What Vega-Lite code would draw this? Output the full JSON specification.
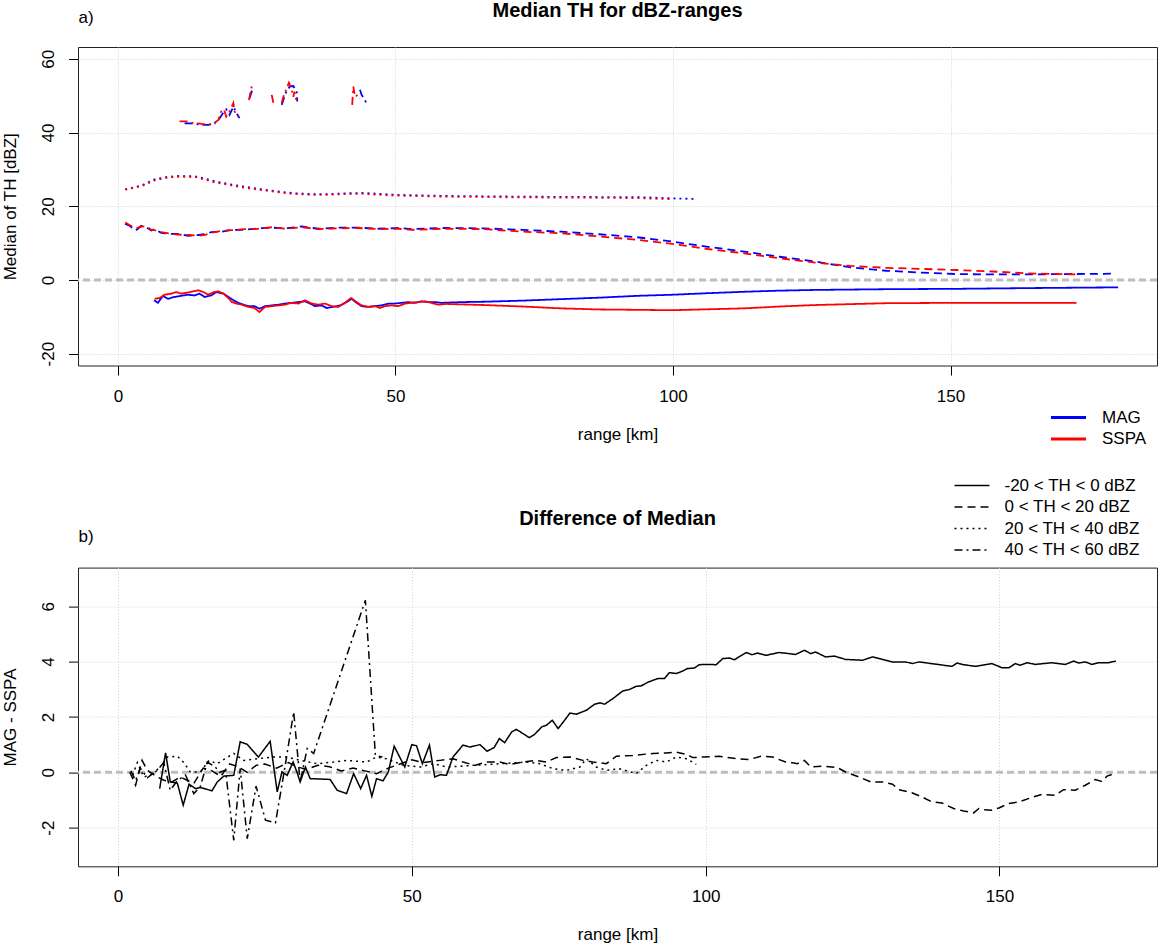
{
  "$schema": "https://vega.github.io/schema/vega-lite/v6.json",
  "background": "white",
  "padding": {"left": 0, "top": 0, "right": 0, "bottom": 0},
  "config": {
    "font": "Liberation Sans",
    "view": {"stroke": "#222222", "strokeWidth": 1},
    "axis": {
      "domain": false, "tickColor": "black", "tickSize": 9.5, "tickWidth": 1,
      "labelFontSize": 17, "titleFontSize": 17, "labelColor": "black", "titleColor": "black",
      "titleFontWeight": "normal", "labelFont": "Liberation Sans", "titleFont": "Liberation Sans",
      "grid": true, "gridColor": "#D3D3D3", "gridDash": [1, 2], "gridWidth": 1
    },
    "axisX": {"labelPadding": 13, "titlePadding": 22},
    "axisY": {"labelAngle": -90, "labelAlign": "center", "labelBaseline": "alphabetic", "labelPadding": 14.7, "titlePadding": 20.5},
    "legend": {"labelColor": "black", "labelFont": "Liberation Sans", "labelFontSize": 17, "padding": 0},
    "title": {"font": "Liberation Sans", "color": "black"}
  },
  "datasets": {
    "top": [
      {"src":"MAG","rng":"-20 < TH < 0 dBZ","km":6.5,"val":-5.5},{"src":"MAG","rng":"-20 < TH < 0 dBZ","km":7.2,"val":-6.2},{"src":"MAG","rng":"-20 < TH < 0 dBZ","km":8.1,"val":-4.3},{"src":"MAG","rng":"-20 < TH < 0 dBZ","km":9.0,"val":-5.1},{"src":"MAG","rng":"-20 < TH < 0 dBZ","km":10.2,"val":-4.6},{"src":"MAG","rng":"-20 < TH < 0 dBZ","km":11.4,"val":-4.3},{"src":"MAG","rng":"-20 < TH < 0 dBZ","km":12.6,"val":-4.0},{"src":"MAG","rng":"-20 < TH < 0 dBZ","km":13.8,"val":-4.2},{"src":"MAG","rng":"-20 < TH < 0 dBZ","km":14.7,"val":-3.7},{"src":"MAG","rng":"-20 < TH < 0 dBZ","km":15.6,"val":-4.6},{"src":"MAG","rng":"-20 < TH < 0 dBZ","km":16.8,"val":-4.2},{"src":"MAG","rng":"-20 < TH < 0 dBZ","km":17.7,"val":-3.3},{"src":"MAG","rng":"-20 < TH < 0 dBZ","km":19.0,"val":-3.7},{"src":"MAG","rng":"-20 < TH < 0 dBZ","km":19.9,"val":-4.6},{"src":"MAG","rng":"-20 < TH < 0 dBZ","km":20.8,"val":-5.5},{"src":"MAG","rng":"-20 < TH < 0 dBZ","km":21.7,"val":-6.2},{"src":"MAG","rng":"-20 < TH < 0 dBZ","km":22.6,"val":-6.7},{"src":"MAG","rng":"-20 < TH < 0 dBZ","km":23.5,"val":-7.1},{"src":"MAG","rng":"-20 < TH < 0 dBZ","km":24.6,"val":-7.1},{"src":"MAG","rng":"-20 < TH < 0 dBZ","km":25.5,"val":-7.8},{"src":"MAG","rng":"-20 < TH < 0 dBZ","km":26.5,"val":-7.1},{"src":"MAG","rng":"-20 < TH < 0 dBZ","km":27.7,"val":-6.9},{"src":"MAG","rng":"-20 < TH < 0 dBZ","km":28.9,"val":-6.7},{"src":"MAG","rng":"-20 < TH < 0 dBZ","km":30.1,"val":-6.4},{"src":"MAG","rng":"-20 < TH < 0 dBZ","km":31.3,"val":-6.2},{"src":"MAG","rng":"-20 < TH < 0 dBZ","km":32.5,"val":-6.0},{"src":"MAG","rng":"-20 < TH < 0 dBZ","km":33.7,"val":-5.8},{"src":"MAG","rng":"-20 < TH < 0 dBZ","km":34.6,"val":-6.4},{"src":"MAG","rng":"-20 < TH < 0 dBZ","km":35.5,"val":-7.1},{"src":"MAG","rng":"-20 < TH < 0 dBZ","km":36.7,"val":-6.9},{"src":"MAG","rng":"-20 < TH < 0 dBZ","km":37.6,"val":-7.6},{"src":"MAG","rng":"-20 < TH < 0 dBZ","km":38.8,"val":-7.3},{"src":"MAG","rng":"-20 < TH < 0 dBZ","km":40.0,"val":-6.9},{"src":"MAG","rng":"-20 < TH < 0 dBZ","km":41.2,"val":-6.0},{"src":"MAG","rng":"-20 < TH < 0 dBZ","km":42.1,"val":-5.1},{"src":"MAG","rng":"-20 < TH < 0 dBZ","km":43.0,"val":-6.2},{"src":"MAG","rng":"-20 < TH < 0 dBZ","km":43.9,"val":-7.1},{"src":"MAG","rng":"-20 < TH < 0 dBZ","km":45.1,"val":-7.3},{"src":"MAG","rng":"-20 < TH < 0 dBZ","km":46.3,"val":-7.1},{"src":"MAG","rng":"-20 < TH < 0 dBZ","km":47.5,"val":-6.9},{"src":"MAG","rng":"-20 < TH < 0 dBZ","km":48.7,"val":-6.4},{"src":"MAG","rng":"-20 < TH < 0 dBZ","km":49.9,"val":-6.4},{"src":"MAG","rng":"-20 < TH < 0 dBZ","km":51.1,"val":-6.2},{"src":"MAG","rng":"-20 < TH < 0 dBZ","km":52.3,"val":-6.0},{"src":"MAG","rng":"-20 < TH < 0 dBZ","km":53.5,"val":-6.2},{"src":"MAG","rng":"-20 < TH < 0 dBZ","km":54.7,"val":-5.8},{"src":"MAG","rng":"-20 < TH < 0 dBZ","km":55.9,"val":-6.0},{"src":"MAG","rng":"-20 < TH < 0 dBZ","km":57.1,"val":-6.0},{"src":"MAG","rng":"-20 < TH < 0 dBZ","km":58.3,"val":-6.2},{"src":"MAG","rng":"-20 < TH < 0 dBZ","km":62.0,"val":-6.0},{"src":"MAG","rng":"-20 < TH < 0 dBZ","km":66.0,"val":-5.9},{"src":"MAG","rng":"-20 < TH < 0 dBZ","km":72.9,"val":-5.6},{"src":"MAG","rng":"-20 < TH < 0 dBZ","km":79.8,"val":-5.2},{"src":"MAG","rng":"-20 < TH < 0 dBZ","km":86.7,"val":-4.8},{"src":"MAG","rng":"-20 < TH < 0 dBZ","km":93.6,"val":-4.3},{"src":"MAG","rng":"-20 < TH < 0 dBZ","km":100.0,"val":-4.0},{"src":"MAG","rng":"-20 < TH < 0 dBZ","km":106.0,"val":-3.6},{"src":"MAG","rng":"-20 < TH < 0 dBZ","km":112.8,"val":-3.2},{"src":"MAG","rng":"-20 < TH < 0 dBZ","km":119.0,"val":-2.9},{"src":"MAG","rng":"-20 < TH < 0 dBZ","km":125.6,"val":-2.7},{"src":"MAG","rng":"-20 < TH < 0 dBZ","km":138.4,"val":-2.5},{"src":"MAG","rng":"-20 < TH < 0 dBZ","km":151.2,"val":-2.4},{"src":"MAG","rng":"-20 < TH < 0 dBZ","km":164.0,"val":-2.2},{"src":"MAG","rng":"-20 < TH < 0 dBZ","km":180.2,"val":-2.0},
      {"src":"SSPA","rng":"-20 < TH < 0 dBZ","km":6.6,"val":-5.1},{"src":"SSPA","rng":"-20 < TH < 0 dBZ","km":7.5,"val":-4.9},{"src":"SSPA","rng":"-20 < TH < 0 dBZ","km":8.4,"val":-4.0},{"src":"SSPA","rng":"-20 < TH < 0 dBZ","km":9.6,"val":-3.7},{"src":"SSPA","rng":"-20 < TH < 0 dBZ","km":10.5,"val":-3.3},{"src":"SSPA","rng":"-20 < TH < 0 dBZ","km":11.4,"val":-3.7},{"src":"SSPA","rng":"-20 < TH < 0 dBZ","km":12.6,"val":-3.4},{"src":"SSPA","rng":"-20 < TH < 0 dBZ","km":13.5,"val":-3.1},{"src":"SSPA","rng":"-20 < TH < 0 dBZ","km":14.5,"val":-2.8},{"src":"SSPA","rng":"-20 < TH < 0 dBZ","km":15.4,"val":-3.3},{"src":"SSPA","rng":"-20 < TH < 0 dBZ","km":16.3,"val":-4.0},{"src":"SSPA","rng":"-20 < TH < 0 dBZ","km":17.2,"val":-3.3},{"src":"SSPA","rng":"-20 < TH < 0 dBZ","km":18.1,"val":-3.1},{"src":"SSPA","rng":"-20 < TH < 0 dBZ","km":19.0,"val":-3.7},{"src":"SSPA","rng":"-20 < TH < 0 dBZ","km":19.9,"val":-4.9},{"src":"SSPA","rng":"-20 < TH < 0 dBZ","km":20.5,"val":-6.0},{"src":"SSPA","rng":"-20 < TH < 0 dBZ","km":21.4,"val":-6.4},{"src":"SSPA","rng":"-20 < TH < 0 dBZ","km":22.3,"val":-6.7},{"src":"SSPA","rng":"-20 < TH < 0 dBZ","km":23.5,"val":-7.3},{"src":"SSPA","rng":"-20 < TH < 0 dBZ","km":24.6,"val":-7.6},{"src":"SSPA","rng":"-20 < TH < 0 dBZ","km":25.5,"val":-8.7},{"src":"SSPA","rng":"-20 < TH < 0 dBZ","km":26.5,"val":-7.3},{"src":"SSPA","rng":"-20 < TH < 0 dBZ","km":27.7,"val":-7.1},{"src":"SSPA","rng":"-20 < TH < 0 dBZ","km":28.9,"val":-6.9},{"src":"SSPA","rng":"-20 < TH < 0 dBZ","km":30.1,"val":-6.7},{"src":"SSPA","rng":"-20 < TH < 0 dBZ","km":31.3,"val":-6.2},{"src":"SSPA","rng":"-20 < TH < 0 dBZ","km":32.5,"val":-6.4},{"src":"SSPA","rng":"-20 < TH < 0 dBZ","km":33.7,"val":-5.5},{"src":"SSPA","rng":"-20 < TH < 0 dBZ","km":34.9,"val":-6.4},{"src":"SSPA","rng":"-20 < TH < 0 dBZ","km":36.1,"val":-6.7},{"src":"SSPA","rng":"-20 < TH < 0 dBZ","km":37.3,"val":-6.4},{"src":"SSPA","rng":"-20 < TH < 0 dBZ","km":38.5,"val":-7.1},{"src":"SSPA","rng":"-20 < TH < 0 dBZ","km":39.7,"val":-7.3},{"src":"SSPA","rng":"-20 < TH < 0 dBZ","km":40.9,"val":-6.2},{"src":"SSPA","rng":"-20 < TH < 0 dBZ","km":42.0,"val":-4.9},{"src":"SSPA","rng":"-20 < TH < 0 dBZ","km":43.0,"val":-6.0},{"src":"SSPA","rng":"-20 < TH < 0 dBZ","km":43.9,"val":-6.9},{"src":"SSPA","rng":"-20 < TH < 0 dBZ","km":45.1,"val":-7.3},{"src":"SSPA","rng":"-20 < TH < 0 dBZ","km":46.3,"val":-7.1},{"src":"SSPA","rng":"-20 < TH < 0 dBZ","km":47.2,"val":-7.6},{"src":"SSPA","rng":"-20 < TH < 0 dBZ","km":48.1,"val":-7.1},{"src":"SSPA","rng":"-20 < TH < 0 dBZ","km":49.3,"val":-6.9},{"src":"SSPA","rng":"-20 < TH < 0 dBZ","km":50.5,"val":-7.1},{"src":"SSPA","rng":"-20 < TH < 0 dBZ","km":51.7,"val":-6.4},{"src":"SSPA","rng":"-20 < TH < 0 dBZ","km":52.9,"val":-6.2},{"src":"SSPA","rng":"-20 < TH < 0 dBZ","km":54.1,"val":-6.0},{"src":"SSPA","rng":"-20 < TH < 0 dBZ","km":55.3,"val":-5.8},{"src":"SSPA","rng":"-20 < TH < 0 dBZ","km":56.5,"val":-6.2},{"src":"SSPA","rng":"-20 < TH < 0 dBZ","km":57.7,"val":-6.7},{"src":"SSPA","rng":"-20 < TH < 0 dBZ","km":59.1,"val":-6.5},{"src":"SSPA","rng":"-20 < TH < 0 dBZ","km":66.0,"val":-6.8},{"src":"SSPA","rng":"-20 < TH < 0 dBZ","km":72.9,"val":-7.2},{"src":"SSPA","rng":"-20 < TH < 0 dBZ","km":79.8,"val":-7.7},{"src":"SSPA","rng":"-20 < TH < 0 dBZ","km":86.7,"val":-8.0},{"src":"SSPA","rng":"-20 < TH < 0 dBZ","km":93.6,"val":-8.1},{"src":"SSPA","rng":"-20 < TH < 0 dBZ","km":99.9,"val":-8.2},{"src":"SSPA","rng":"-20 < TH < 0 dBZ","km":105.0,"val":-8.0},{"src":"SSPA","rng":"-20 < TH < 0 dBZ","km":112.8,"val":-7.7},{"src":"SSPA","rng":"-20 < TH < 0 dBZ","km":119.2,"val":-7.2},{"src":"SSPA","rng":"-20 < TH < 0 dBZ","km":125.6,"val":-6.8},{"src":"SSPA","rng":"-20 < TH < 0 dBZ","km":138.4,"val":-6.3},{"src":"SSPA","rng":"-20 < TH < 0 dBZ","km":151.2,"val":-6.2},{"src":"SSPA","rng":"-20 < TH < 0 dBZ","km":164.0,"val":-6.2},{"src":"SSPA","rng":"-20 < TH < 0 dBZ","km":172.7,"val":-6.2},
      {"src":"MAG","rng":"0 < TH < 20 dBZ","km":1.3,"val":15.2},{"src":"MAG","rng":"0 < TH < 20 dBZ","km":2.1,"val":14.7},{"src":"MAG","rng":"0 < TH < 20 dBZ","km":3.2,"val":13.4},{"src":"MAG","rng":"0 < TH < 20 dBZ","km":4.2,"val":14.7},{"src":"MAG","rng":"0 < TH < 20 dBZ","km":5.1,"val":14.3},{"src":"MAG","rng":"0 < TH < 20 dBZ","km":6.0,"val":13.4},{"src":"MAG","rng":"0 < TH < 20 dBZ","km":6.6,"val":13.8},{"src":"MAG","rng":"0 < TH < 20 dBZ","km":7.8,"val":12.8},{"src":"MAG","rng":"0 < TH < 20 dBZ","km":9.3,"val":12.5},{"src":"MAG","rng":"0 < TH < 20 dBZ","km":10.8,"val":12.5},{"src":"MAG","rng":"0 < TH < 20 dBZ","km":12.6,"val":12.0},{"src":"MAG","rng":"0 < TH < 20 dBZ","km":14.5,"val":12.2},{"src":"MAG","rng":"0 < TH < 20 dBZ","km":15.9,"val":12.5},{"src":"MAG","rng":"0 < TH < 20 dBZ","km":16.8,"val":13.0},{"src":"MAG","rng":"0 < TH < 20 dBZ","km":18.6,"val":13.1},{"src":"MAG","rng":"0 < TH < 20 dBZ","km":20.5,"val":13.6},{"src":"MAG","rng":"0 < TH < 20 dBZ","km":22.8,"val":13.6},{"src":"MAG","rng":"0 < TH < 20 dBZ","km":25.3,"val":14.0},{"src":"MAG","rng":"0 < TH < 20 dBZ","km":27.7,"val":14.2},{"src":"MAG","rng":"0 < TH < 20 dBZ","km":30.1,"val":14.0},{"src":"MAG","rng":"0 < TH < 20 dBZ","km":33.1,"val":14.5},{"src":"MAG","rng":"0 < TH < 20 dBZ","km":36.1,"val":13.9},{"src":"MAG","rng":"0 < TH < 20 dBZ","km":39.7,"val":14.2},{"src":"MAG","rng":"0 < TH < 20 dBZ","km":43.3,"val":14.2},{"src":"MAG","rng":"0 < TH < 20 dBZ","km":46.9,"val":13.9},{"src":"MAG","rng":"0 < TH < 20 dBZ","km":50.5,"val":14.1},{"src":"MAG","rng":"0 < TH < 20 dBZ","km":52.9,"val":13.8},{"src":"MAG","rng":"0 < TH < 20 dBZ","km":59.0,"val":14.1},{"src":"MAG","rng":"0 < TH < 20 dBZ","km":66.0,"val":14.0},{"src":"MAG","rng":"0 < TH < 20 dBZ","km":72.9,"val":13.6},{"src":"MAG","rng":"0 < TH < 20 dBZ","km":79.8,"val":13.1},{"src":"MAG","rng":"0 < TH < 20 dBZ","km":86.7,"val":12.4},{"src":"MAG","rng":"0 < TH < 20 dBZ","km":93.5,"val":11.6},{"src":"MAG","rng":"0 < TH < 20 dBZ","km":99.9,"val":10.4},{"src":"MAG","rng":"0 < TH < 20 dBZ","km":106.3,"val":9.0},{"src":"MAG","rng":"0 < TH < 20 dBZ","km":112.8,"val":7.7},{"src":"MAG","rng":"0 < TH < 20 dBZ","km":119.2,"val":6.3},{"src":"MAG","rng":"0 < TH < 20 dBZ","km":125.6,"val":5.0},{"src":"MAG","rng":"0 < TH < 20 dBZ","km":132.0,"val":3.4},{"src":"MAG","rng":"0 < TH < 20 dBZ","km":138.4,"val":2.5},{"src":"MAG","rng":"0 < TH < 20 dBZ","km":144.8,"val":2.0},{"src":"MAG","rng":"0 < TH < 20 dBZ","km":151.2,"val":1.6},{"src":"MAG","rng":"0 < TH < 20 dBZ","km":157.6,"val":1.5},{"src":"MAG","rng":"0 < TH < 20 dBZ","km":164.0,"val":1.5},{"src":"MAG","rng":"0 < TH < 20 dBZ","km":170.5,"val":1.6},{"src":"MAG","rng":"0 < TH < 20 dBZ","km":179.2,"val":1.7},
      {"src":"SSPA","rng":"0 < TH < 20 dBZ","km":1.3,"val":15.6},{"src":"SSPA","rng":"0 < TH < 20 dBZ","km":2.1,"val":14.9},{"src":"SSPA","rng":"0 < TH < 20 dBZ","km":3.2,"val":14.0},{"src":"SSPA","rng":"0 < TH < 20 dBZ","km":4.2,"val":14.5},{"src":"SSPA","rng":"0 < TH < 20 dBZ","km":5.1,"val":14.6},{"src":"SSPA","rng":"0 < TH < 20 dBZ","km":6.0,"val":13.6},{"src":"SSPA","rng":"0 < TH < 20 dBZ","km":6.6,"val":13.5},{"src":"SSPA","rng":"0 < TH < 20 dBZ","km":7.8,"val":13.0},{"src":"SSPA","rng":"0 < TH < 20 dBZ","km":9.3,"val":12.6},{"src":"SSPA","rng":"0 < TH < 20 dBZ","km":10.8,"val":12.3},{"src":"SSPA","rng":"0 < TH < 20 dBZ","km":12.6,"val":12.2},{"src":"SSPA","rng":"0 < TH < 20 dBZ","km":14.5,"val":12.0},{"src":"SSPA","rng":"0 < TH < 20 dBZ","km":15.9,"val":12.3},{"src":"SSPA","rng":"0 < TH < 20 dBZ","km":16.8,"val":12.8},{"src":"SSPA","rng":"0 < TH < 20 dBZ","km":18.6,"val":13.3},{"src":"SSPA","rng":"0 < TH < 20 dBZ","km":20.5,"val":13.5},{"src":"SSPA","rng":"0 < TH < 20 dBZ","km":22.8,"val":13.8},{"src":"SSPA","rng":"0 < TH < 20 dBZ","km":25.3,"val":13.9},{"src":"SSPA","rng":"0 < TH < 20 dBZ","km":27.7,"val":14.3},{"src":"SSPA","rng":"0 < TH < 20 dBZ","km":30.1,"val":13.9},{"src":"SSPA","rng":"0 < TH < 20 dBZ","km":33.1,"val":14.3},{"src":"SSPA","rng":"0 < TH < 20 dBZ","km":36.1,"val":13.8},{"src":"SSPA","rng":"0 < TH < 20 dBZ","km":39.7,"val":14.0},{"src":"SSPA","rng":"0 < TH < 20 dBZ","km":43.3,"val":14.1},{"src":"SSPA","rng":"0 < TH < 20 dBZ","km":46.9,"val":13.8},{"src":"SSPA","rng":"0 < TH < 20 dBZ","km":50.5,"val":13.9},{"src":"SSPA","rng":"0 < TH < 20 dBZ","km":52.9,"val":13.6},{"src":"SSPA","rng":"0 < TH < 20 dBZ","km":59.0,"val":13.9},{"src":"SSPA","rng":"0 < TH < 20 dBZ","km":66.0,"val":13.8},{"src":"SSPA","rng":"0 < TH < 20 dBZ","km":72.9,"val":13.1},{"src":"SSPA","rng":"0 < TH < 20 dBZ","km":79.8,"val":12.7},{"src":"SSPA","rng":"0 < TH < 20 dBZ","km":86.7,"val":11.8},{"src":"SSPA","rng":"0 < TH < 20 dBZ","km":93.5,"val":10.9},{"src":"SSPA","rng":"0 < TH < 20 dBZ","km":99.9,"val":9.8},{"src":"SSPA","rng":"0 < TH < 20 dBZ","km":106.3,"val":8.4},{"src":"SSPA","rng":"0 < TH < 20 dBZ","km":112.8,"val":7.2},{"src":"SSPA","rng":"0 < TH < 20 dBZ","km":119.2,"val":5.9},{"src":"SSPA","rng":"0 < TH < 20 dBZ","km":125.6,"val":4.7},{"src":"SSPA","rng":"0 < TH < 20 dBZ","km":132.0,"val":3.8},{"src":"SSPA","rng":"0 < TH < 20 dBZ","km":138.4,"val":3.3},{"src":"SSPA","rng":"0 < TH < 20 dBZ","km":144.8,"val":3.0},{"src":"SSPA","rng":"0 < TH < 20 dBZ","km":151.2,"val":2.7},{"src":"SSPA","rng":"0 < TH < 20 dBZ","km":157.6,"val":2.3},{"src":"SSPA","rng":"0 < TH < 20 dBZ","km":164.0,"val":1.8},{"src":"SSPA","rng":"0 < TH < 20 dBZ","km":172.7,"val":1.5},
      {"src":"MAG","rng":"20 < TH < 40 dBZ","km":1.3,"val":24.6},{"src":"MAG","rng":"20 < TH < 40 dBZ","km":4.2,"val":25.6},{"src":"MAG","rng":"20 < TH < 40 dBZ","km":6.6,"val":27.3},{"src":"MAG","rng":"20 < TH < 40 dBZ","km":9.0,"val":28.0},{"src":"MAG","rng":"20 < TH < 40 dBZ","km":10.8,"val":28.2},{"src":"MAG","rng":"20 < TH < 40 dBZ","km":13.8,"val":28.1},{"src":"MAG","rng":"20 < TH < 40 dBZ","km":15.4,"val":27.6},{"src":"MAG","rng":"20 < TH < 40 dBZ","km":17.4,"val":26.8},{"src":"MAG","rng":"20 < TH < 40 dBZ","km":19.9,"val":26.0},{"src":"MAG","rng":"20 < TH < 40 dBZ","km":22.8,"val":25.3},{"src":"MAG","rng":"20 < TH < 40 dBZ","km":25.9,"val":24.6},{"src":"MAG","rng":"20 < TH < 40 dBZ","km":28.9,"val":24.0},{"src":"MAG","rng":"20 < TH < 40 dBZ","km":31.9,"val":23.5},{"src":"MAG","rng":"20 < TH < 40 dBZ","km":34.9,"val":23.3},{"src":"MAG","rng":"20 < TH < 40 dBZ","km":37.9,"val":23.3},{"src":"MAG","rng":"20 < TH < 40 dBZ","km":40.9,"val":23.5},{"src":"MAG","rng":"20 < TH < 40 dBZ","km":43.9,"val":23.6},{"src":"MAG","rng":"20 < TH < 40 dBZ","km":46.9,"val":23.4},{"src":"MAG","rng":"20 < TH < 40 dBZ","km":49.9,"val":23.1},{"src":"MAG","rng":"20 < TH < 40 dBZ","km":59.1,"val":22.8},{"src":"MAG","rng":"20 < TH < 40 dBZ","km":72.9,"val":22.6},{"src":"MAG","rng":"20 < TH < 40 dBZ","km":86.7,"val":22.5},{"src":"MAG","rng":"20 < TH < 40 dBZ","km":93.5,"val":22.5},{"src":"MAG","rng":"20 < TH < 40 dBZ","km":100.5,"val":22.1},{"src":"MAG","rng":"20 < TH < 40 dBZ","km":103.9,"val":22.0},
      {"src":"SSPA","rng":"20 < TH < 40 dBZ","km":1.3,"val":24.5},{"src":"SSPA","rng":"20 < TH < 40 dBZ","km":4.2,"val":25.4},{"src":"SSPA","rng":"20 < TH < 40 dBZ","km":6.6,"val":27.0},{"src":"SSPA","rng":"20 < TH < 40 dBZ","km":9.0,"val":27.8},{"src":"SSPA","rng":"20 < TH < 40 dBZ","km":10.8,"val":28.0},{"src":"SSPA","rng":"20 < TH < 40 dBZ","km":13.8,"val":28.0},{"src":"SSPA","rng":"20 < TH < 40 dBZ","km":15.4,"val":27.3},{"src":"SSPA","rng":"20 < TH < 40 dBZ","km":17.4,"val":26.5},{"src":"SSPA","rng":"20 < TH < 40 dBZ","km":19.9,"val":25.8},{"src":"SSPA","rng":"20 < TH < 40 dBZ","km":22.8,"val":25.0},{"src":"SSPA","rng":"20 < TH < 40 dBZ","km":25.9,"val":24.4},{"src":"SSPA","rng":"20 < TH < 40 dBZ","km":28.9,"val":23.8},{"src":"SSPA","rng":"20 < TH < 40 dBZ","km":31.9,"val":23.3},{"src":"SSPA","rng":"20 < TH < 40 dBZ","km":34.9,"val":23.1},{"src":"SSPA","rng":"20 < TH < 40 dBZ","km":37.9,"val":23.1},{"src":"SSPA","rng":"20 < TH < 40 dBZ","km":40.9,"val":23.3},{"src":"SSPA","rng":"20 < TH < 40 dBZ","km":43.9,"val":23.4},{"src":"SSPA","rng":"20 < TH < 40 dBZ","km":46.9,"val":23.1},{"src":"SSPA","rng":"20 < TH < 40 dBZ","km":49.9,"val":22.9},{"src":"SSPA","rng":"20 < TH < 40 dBZ","km":59.1,"val":22.6},{"src":"SSPA","rng":"20 < TH < 40 dBZ","km":72.9,"val":22.4},{"src":"SSPA","rng":"20 < TH < 40 dBZ","km":86.7,"val":22.3},{"src":"SSPA","rng":"20 < TH < 40 dBZ","km":93.5,"val":22.2},{"src":"SSPA","rng":"20 < TH < 40 dBZ","km":100.0,"val":21.9},
      {"src":"MAG","rng":"40 < TH < 60 dBZ","seg":1,"km":12.0,"val":42.5},{"src":"MAG","rng":"40 < TH < 60 dBZ","seg":1,"km":13.2,"val":42.5},{"src":"MAG","rng":"40 < TH < 60 dBZ","seg":1,"km":15.0,"val":42.1},{"src":"MAG","rng":"40 < TH < 60 dBZ","seg":1,"km":16.3,"val":42.1},{"src":"MAG","rng":"40 < TH < 60 dBZ","seg":1,"km":17.4,"val":42.5},{"src":"MAG","rng":"40 < TH < 60 dBZ","seg":1,"km":18.1,"val":43.4},{"src":"MAG","rng":"40 < TH < 60 dBZ","seg":1,"km":19.0,"val":45.4},{"src":"MAG","rng":"40 < TH < 60 dBZ","seg":1,"km":19.5,"val":46.3},{"src":"MAG","rng":"40 < TH < 60 dBZ","seg":1,"km":20.1,"val":44.8},{"src":"MAG","rng":"40 < TH < 60 dBZ","seg":1,"km":20.8,"val":47.0},{"src":"MAG","rng":"40 < TH < 60 dBZ","seg":1,"km":21.4,"val":45.2},{"src":"MAG","rng":"40 < TH < 60 dBZ","seg":1,"km":21.9,"val":43.9},
      {"src":"MAG","rng":"40 < TH < 60 dBZ","seg":2,"km":23.7,"val":49.3},{"src":"MAG","rng":"40 < TH < 60 dBZ","seg":2,"km":24.2,"val":51.6},
      {"src":"MAG","rng":"40 < TH < 60 dBZ","seg":3,"km":29.5,"val":47.5},{"src":"MAG","rng":"40 < TH < 60 dBZ","seg":3,"km":29.9,"val":49.3},{"src":"MAG","rng":"40 < TH < 60 dBZ","seg":3,"km":30.4,"val":51.4},{"src":"MAG","rng":"40 < TH < 60 dBZ","seg":3,"km":31.0,"val":52.5},{"src":"MAG","rng":"40 < TH < 60 dBZ","seg":3,"km":31.6,"val":52.6},{"src":"MAG","rng":"40 < TH < 60 dBZ","seg":3,"km":32.2,"val":51.1},{"src":"MAG","rng":"40 < TH < 60 dBZ","seg":3,"km":32.3,"val":48.4},
      {"src":"MAG","rng":"40 < TH < 60 dBZ","seg":4,"km":43.6,"val":51.6},{"src":"MAG","rng":"40 < TH < 60 dBZ","seg":4,"km":43.9,"val":50.2},{"src":"MAG","rng":"40 < TH < 60 dBZ","seg":4,"km":44.5,"val":48.8},{"src":"MAG","rng":"40 < TH < 60 dBZ","seg":4,"km":45.0,"val":47.2},
      {"src":"SSPA","rng":"40 < TH < 60 dBZ","seg":1,"km":11.1,"val":43.0},{"src":"SSPA","rng":"40 < TH < 60 dBZ","seg":1,"km":12.3,"val":43.0},{"src":"SSPA","rng":"40 < TH < 60 dBZ","seg":1,"km":13.2,"val":42.7},{"src":"SSPA","rng":"40 < TH < 60 dBZ","seg":1,"km":14.4,"val":42.5},{"src":"SSPA","rng":"40 < TH < 60 dBZ","seg":1,"km":15.4,"val":42.3},{"src":"SSPA","rng":"40 < TH < 60 dBZ","seg":1,"km":16.3,"val":42.1},{"src":"SSPA","rng":"40 < TH < 60 dBZ","seg":1,"km":17.2,"val":42.5},{"src":"SSPA","rng":"40 < TH < 60 dBZ","seg":1,"km":18.1,"val":43.4},{"src":"SSPA","rng":"40 < TH < 60 dBZ","seg":1,"km":18.6,"val":45.7},{"src":"SSPA","rng":"40 < TH < 60 dBZ","seg":1,"km":19.1,"val":46.3},{"src":"SSPA","rng":"40 < TH < 60 dBZ","seg":1,"km":19.5,"val":44.3},{"src":"SSPA","rng":"40 < TH < 60 dBZ","seg":1,"km":20.1,"val":45.7},{"src":"SSPA","rng":"40 < TH < 60 dBZ","seg":1,"km":20.8,"val":48.0},{"src":"SSPA","rng":"40 < TH < 60 dBZ","seg":1,"km":21.0,"val":45.7},{"src":"SSPA","rng":"40 < TH < 60 dBZ","seg":1,"km":21.7,"val":44.3},
      {"src":"SSPA","rng":"40 < TH < 60 dBZ","seg":2,"km":23.6,"val":48.8},{"src":"SSPA","rng":"40 < TH < 60 dBZ","seg":2,"km":24.1,"val":52.5},
      {"src":"SSPA","rng":"40 < TH < 60 dBZ","seg":3,"km":27.7,"val":50.2},{"src":"SSPA","rng":"40 < TH < 60 dBZ","seg":3,"km":28.0,"val":48.0},
      {"src":"SSPA","rng":"40 < TH < 60 dBZ","seg":4,"km":29.5,"val":48.0},{"src":"SSPA","rng":"40 < TH < 60 dBZ","seg":4,"km":29.9,"val":50.2},{"src":"SSPA","rng":"40 < TH < 60 dBZ","seg":4,"km":30.4,"val":52.0},{"src":"SSPA","rng":"40 < TH < 60 dBZ","seg":4,"km":30.8,"val":53.5},{"src":"SSPA","rng":"40 < TH < 60 dBZ","seg":4,"km":31.3,"val":51.6},{"src":"SSPA","rng":"40 < TH < 60 dBZ","seg":4,"km":31.6,"val":49.7},{"src":"SSPA","rng":"40 < TH < 60 dBZ","seg":4,"km":31.8,"val":51.1},{"src":"SSPA","rng":"40 < TH < 60 dBZ","seg":4,"km":32.2,"val":48.4},
      {"src":"SSPA","rng":"40 < TH < 60 dBZ","seg":5,"km":42.2,"val":47.5},{"src":"SSPA","rng":"40 < TH < 60 dBZ","seg":5,"km":42.4,"val":52.5},{"src":"SSPA","rng":"40 < TH < 60 dBZ","seg":5,"km":42.7,"val":49.7},{"src":"SSPA","rng":"40 < TH < 60 dBZ","seg":5,"km":43.2,"val":50.2},{"src":"SSPA","rng":"40 < TH < 60 dBZ","seg":5,"km":43.6,"val":49.3}
    ],
    "diff": [
      {"rng":"-20 < TH < 0 dBZ","km":7.1,"val":-0.59},{"rng":"-20 < TH < 0 dBZ","km":8.1,"val":0.70},{"rng":"-20 < TH < 0 dBZ","km":8.9,"val":-0.35},{"rng":"-20 < TH < 0 dBZ","km":10.1,"val":-0.39},{"rng":"-20 < TH < 0 dBZ","km":11.1,"val":-1.19},{"rng":"-20 < TH < 0 dBZ","km":12.1,"val":-0.43},{"rng":"-20 < TH < 0 dBZ","km":13.2,"val":-0.59},{"rng":"-20 < TH < 0 dBZ","km":14.0,"val":-0.55},{"rng":"-20 < TH < 0 dBZ","km":16.0,"val":-0.67},{"rng":"-20 < TH < 0 dBZ","km":16.9,"val":-0.35},{"rng":"-20 < TH < 0 dBZ","km":18.0,"val":-0.14},{"rng":"-20 < TH < 0 dBZ","km":19.7,"val":-0.11},{"rng":"-20 < TH < 0 dBZ","km":20.8,"val":1.10},{"rng":"-20 < TH < 0 dBZ","km":22.0,"val":1.01},{"rng":"-20 < TH < 0 dBZ","km":23.9,"val":0.55},{"rng":"-20 < TH < 0 dBZ","km":25.9,"val":1.12},{"rng":"-20 < TH < 0 dBZ","km":27.1,"val":-0.71},{"rng":"-20 < TH < 0 dBZ","km":27.9,"val":0.01},{"rng":"-20 < TH < 0 dBZ","km":28.8,"val":-0.11},{"rng":"-20 < TH < 0 dBZ","km":29.8,"val":0.37},{"rng":"-20 < TH < 0 dBZ","km":30.5,"val":-0.02},{"rng":"-20 < TH < 0 dBZ","km":31.0,"val":-0.35},{"rng":"-20 < TH < 0 dBZ","km":31.9,"val":0.19},{"rng":"-20 < TH < 0 dBZ","km":32.7,"val":-0.23},{"rng":"-20 < TH < 0 dBZ","km":36.1,"val":-0.26},{"rng":"-20 < TH < 0 dBZ","km":37.3,"val":-0.65},{"rng":"-20 < TH < 0 dBZ","km":38.9,"val":-0.77},{"rng":"-20 < TH < 0 dBZ","km":40.1,"val":-0.05},{"rng":"-20 < TH < 0 dBZ","km":41.3,"val":-0.59},{"rng":"-20 < TH < 0 dBZ","km":42.3,"val":-0.11},{"rng":"-20 < TH < 0 dBZ","km":43.2,"val":-0.87},{"rng":"-20 < TH < 0 dBZ","km":44.0,"val":-0.23},{"rng":"-20 < TH < 0 dBZ","km":45.1,"val":-0.31},{"rng":"-20 < TH < 0 dBZ","km":46.0,"val":0.01},{"rng":"-20 < TH < 0 dBZ","km":47.0,"val":0.94},{"rng":"-20 < TH < 0 dBZ","km":48.8,"val":0.19},{"rng":"-20 < TH < 0 dBZ","km":50.0,"val":1.00},{"rng":"-20 < TH < 0 dBZ","km":50.8,"val":0.96},{"rng":"-20 < TH < 0 dBZ","km":51.8,"val":0.31},{"rng":"-20 < TH < 0 dBZ","km":53.0,"val":0.98},{"rng":"-20 < TH < 0 dBZ","km":53.9,"val":-0.17},{"rng":"-20 < TH < 0 dBZ","km":54.8,"val":-0.09},{"rng":"-20 < TH < 0 dBZ","km":55.9,"val":-0.11},{"rng":"-20 < TH < 0 dBZ","km":57.0,"val":0.55},{"rng":"-20 < TH < 0 dBZ","km":58.7,"val":0.98},{"rng":"-20 < TH < 0 dBZ","km":59.9,"val":0.91},{"rng":"-20 < TH < 0 dBZ","km":61.6,"val":1.00},{"rng":"-20 < TH < 0 dBZ","km":62.8,"val":0.76},{"rng":"-20 < TH < 0 dBZ","km":64.0,"val":0.89},{"rng":"-20 < TH < 0 dBZ","km":64.9,"val":1.22},{"rng":"-20 < TH < 0 dBZ","km":65.8,"val":1.07},{"rng":"-20 < TH < 0 dBZ","km":67.0,"val":1.46},{"rng":"-20 < TH < 0 dBZ","km":67.8,"val":1.55},{"rng":"-20 < TH < 0 dBZ","km":70.0,"val":1.25},{"rng":"-20 < TH < 0 dBZ","km":70.9,"val":1.37},{"rng":"-20 < TH < 0 dBZ","km":72.1,"val":1.64},{"rng":"-20 < TH < 0 dBZ","km":72.9,"val":1.70},{"rng":"-20 < TH < 0 dBZ","km":73.9,"val":1.88},{"rng":"-20 < TH < 0 dBZ","km":74.9,"val":1.58},{"rng":"-20 < TH < 0 dBZ","km":76.0,"val":1.88},{"rng":"-20 < TH < 0 dBZ","km":76.9,"val":2.14},{"rng":"-20 < TH < 0 dBZ","km":78.0,"val":2.10},{"rng":"-20 < TH < 0 dBZ","km":79.7,"val":2.24},{"rng":"-20 < TH < 0 dBZ","km":81.1,"val":2.46},{"rng":"-20 < TH < 0 dBZ","km":82.0,"val":2.51},{"rng":"-20 < TH < 0 dBZ","km":82.8,"val":2.46},{"rng":"-20 < TH < 0 dBZ","km":84.2,"val":2.66},{"rng":"-20 < TH < 0 dBZ","km":85.9,"val":2.94},{"rng":"-20 < TH < 0 dBZ","km":87.0,"val":2.99},{"rng":"-20 < TH < 0 dBZ","km":88.2,"val":3.11},{"rng":"-20 < TH < 0 dBZ","km":89.0,"val":3.12},{"rng":"-20 < TH < 0 dBZ","km":90.2,"val":3.26},{"rng":"-20 < TH < 0 dBZ","km":91.9,"val":3.39},{"rng":"-20 < TH < 0 dBZ","km":93.0,"val":3.39},{"rng":"-20 < TH < 0 dBZ","km":93.8,"val":3.60},{"rng":"-20 < TH < 0 dBZ","km":95.0,"val":3.57},{"rng":"-20 < TH < 0 dBZ","km":96.1,"val":3.66},{"rng":"-20 < TH < 0 dBZ","km":96.9,"val":3.75},{"rng":"-20 < TH < 0 dBZ","km":98.1,"val":3.77},{"rng":"-20 < TH < 0 dBZ","km":98.9,"val":3.89},{"rng":"-20 < TH < 0 dBZ","km":100.1,"val":3.90},{"rng":"-20 < TH < 0 dBZ","km":101.8,"val":3.89},{"rng":"-20 < TH < 0 dBZ","km":102.9,"val":4.11},{"rng":"-20 < TH < 0 dBZ","km":104.0,"val":4.13},{"rng":"-20 < TH < 0 dBZ","km":104.9,"val":4.07},{"rng":"-20 < TH < 0 dBZ","km":106.9,"val":4.33},{"rng":"-20 < TH < 0 dBZ","km":107.9,"val":4.25},{"rng":"-20 < TH < 0 dBZ","km":108.8,"val":4.31},{"rng":"-20 < TH < 0 dBZ","km":110.3,"val":4.23},{"rng":"-20 < TH < 0 dBZ","km":112.5,"val":4.33},{"rng":"-20 < TH < 0 dBZ","km":114.2,"val":4.29},{"rng":"-20 < TH < 0 dBZ","km":115.3,"val":4.26},{"rng":"-20 < TH < 0 dBZ","km":116.8,"val":4.41},{"rng":"-20 < TH < 0 dBZ","km":117.9,"val":4.29},{"rng":"-20 < TH < 0 dBZ","km":118.7,"val":4.35},{"rng":"-20 < TH < 0 dBZ","km":120.4,"val":4.17},{"rng":"-20 < TH < 0 dBZ","km":121.9,"val":4.20},{"rng":"-20 < TH < 0 dBZ","km":123.8,"val":4.08},{"rng":"-20 < TH < 0 dBZ","km":126.7,"val":4.05},{"rng":"-20 < TH < 0 dBZ","km":128.4,"val":4.17},{"rng":"-20 < TH < 0 dBZ","km":131.8,"val":3.99},{"rng":"-20 < TH < 0 dBZ","km":134.0,"val":3.99},{"rng":"-20 < TH < 0 dBZ","km":135.2,"val":3.93},{"rng":"-20 < TH < 0 dBZ","km":136.3,"val":3.99},{"rng":"-20 < TH < 0 dBZ","km":141.9,"val":3.83},{"rng":"-20 < TH < 0 dBZ","km":142.8,"val":3.95},{"rng":"-20 < TH < 0 dBZ","km":143.9,"val":3.89},{"rng":"-20 < TH < 0 dBZ","km":145.9,"val":3.83},{"rng":"-20 < TH < 0 dBZ","km":148.7,"val":3.93},{"rng":"-20 < TH < 0 dBZ","km":150.4,"val":3.78},{"rng":"-20 < TH < 0 dBZ","km":151.6,"val":3.78},{"rng":"-20 < TH < 0 dBZ","km":152.7,"val":3.93},{"rng":"-20 < TH < 0 dBZ","km":153.5,"val":3.87},{"rng":"-20 < TH < 0 dBZ","km":154.7,"val":3.96},{"rng":"-20 < TH < 0 dBZ","km":156.1,"val":3.90},{"rng":"-20 < TH < 0 dBZ","km":158.9,"val":3.96},{"rng":"-20 < TH < 0 dBZ","km":161.2,"val":3.90},{"rng":"-20 < TH < 0 dBZ","km":162.6,"val":4.02},{"rng":"-20 < TH < 0 dBZ","km":163.5,"val":3.95},{"rng":"-20 < TH < 0 dBZ","km":164.6,"val":3.99},{"rng":"-20 < TH < 0 dBZ","km":165.7,"val":3.90},{"rng":"-20 < TH < 0 dBZ","km":166.8,"val":3.96},{"rng":"-20 < TH < 0 dBZ","km":168.5,"val":3.96},{"rng":"-20 < TH < 0 dBZ","km":169.8,"val":4.02},
      {"rng":"0 < TH < 20 dBZ","km":2.0,"val":0.01},{"rng":"0 < TH < 20 dBZ","km":3.0,"val":-0.47},{"rng":"0 < TH < 20 dBZ","km":4.1,"val":0.43},{"rng":"0 < TH < 20 dBZ","km":5.0,"val":0.07},{"rng":"0 < TH < 20 dBZ","km":6.7,"val":-0.17},{"rng":"0 < TH < 20 dBZ","km":7.8,"val":-0.29},{"rng":"0 < TH < 20 dBZ","km":9.2,"val":-0.35},{"rng":"0 < TH < 20 dBZ","km":10.6,"val":-0.17},{"rng":"0 < TH < 20 dBZ","km":12.9,"val":-0.41},{"rng":"0 < TH < 20 dBZ","km":14.5,"val":0.15},{"rng":"0 < TH < 20 dBZ","km":16.0,"val":0.05},{"rng":"0 < TH < 20 dBZ","km":17.5,"val":-0.15},{"rng":"0 < TH < 20 dBZ","km":19.0,"val":0.30},{"rng":"0 < TH < 20 dBZ","km":20.5,"val":0.20},{"rng":"0 < TH < 20 dBZ","km":22.0,"val":0.00},{"rng":"0 < TH < 20 dBZ","km":23.5,"val":0.25},{"rng":"0 < TH < 20 dBZ","km":25.0,"val":0.30},{"rng":"0 < TH < 20 dBZ","km":27.0,"val":0.15},{"rng":"0 < TH < 20 dBZ","km":29.0,"val":0.35},{"rng":"0 < TH < 20 dBZ","km":30.5,"val":0.20},{"rng":"0 < TH < 20 dBZ","km":32.0,"val":0.10},{"rng":"0 < TH < 20 dBZ","km":34.0,"val":0.25},{"rng":"0 < TH < 20 dBZ","km":36.0,"val":0.20},{"rng":"0 < TH < 20 dBZ","km":38.0,"val":0.05},{"rng":"0 < TH < 20 dBZ","km":40.0,"val":0.15},{"rng":"0 < TH < 20 dBZ","km":42.0,"val":0.05},{"rng":"0 < TH < 20 dBZ","km":44.0,"val":-0.05},{"rng":"0 < TH < 20 dBZ","km":46.0,"val":0.15},{"rng":"0 < TH < 20 dBZ","km":48.0,"val":0.30},{"rng":"0 < TH < 20 dBZ","km":50.0,"val":0.45},{"rng":"0 < TH < 20 dBZ","km":52.0,"val":0.35},{"rng":"0 < TH < 20 dBZ","km":54.8,"val":0.43},{"rng":"0 < TH < 20 dBZ","km":57.0,"val":0.49},{"rng":"0 < TH < 20 dBZ","km":58.7,"val":0.37},{"rng":"0 < TH < 20 dBZ","km":60.7,"val":0.25},{"rng":"0 < TH < 20 dBZ","km":62.7,"val":0.37},{"rng":"0 < TH < 20 dBZ","km":65.0,"val":0.37},{"rng":"0 < TH < 20 dBZ","km":66.7,"val":0.28},{"rng":"0 < TH < 20 dBZ","km":68.9,"val":0.37},{"rng":"0 < TH < 20 dBZ","km":71.2,"val":0.43},{"rng":"0 < TH < 20 dBZ","km":72.9,"val":0.37},{"rng":"0 < TH < 20 dBZ","km":74.6,"val":0.53},{"rng":"0 < TH < 20 dBZ","km":76.9,"val":0.55},{"rng":"0 < TH < 20 dBZ","km":79.1,"val":0.43},{"rng":"0 < TH < 20 dBZ","km":80.8,"val":0.37},{"rng":"0 < TH < 20 dBZ","km":83.1,"val":0.31},{"rng":"0 < TH < 20 dBZ","km":84.8,"val":0.58},{"rng":"0 < TH < 20 dBZ","km":87.6,"val":0.61},{"rng":"0 < TH < 20 dBZ","km":91.0,"val":0.68},{"rng":"0 < TH < 20 dBZ","km":93.3,"val":0.70},{"rng":"0 < TH < 20 dBZ","km":95.0,"val":0.73},{"rng":"0 < TH < 20 dBZ","km":96.7,"val":0.65},{"rng":"0 < TH < 20 dBZ","km":97.8,"val":0.53},{"rng":"0 < TH < 20 dBZ","km":99.5,"val":0.55},{"rng":"0 < TH < 20 dBZ","km":102.3,"val":0.58},{"rng":"0 < TH < 20 dBZ","km":105.2,"val":0.49},{"rng":"0 < TH < 20 dBZ","km":107.4,"val":0.46},{"rng":"0 < TH < 20 dBZ","km":109.4,"val":0.58},{"rng":"0 < TH < 20 dBZ","km":111.4,"val":0.55},{"rng":"0 < TH < 20 dBZ","km":113.6,"val":0.37},{"rng":"0 < TH < 20 dBZ","km":114.8,"val":0.34},{"rng":"0 < TH < 20 dBZ","km":115.6,"val":0.31},{"rng":"0 < TH < 20 dBZ","km":116.8,"val":0.43},{"rng":"0 < TH < 20 dBZ","km":117.9,"val":0.19},{"rng":"0 < TH < 20 dBZ","km":119.9,"val":0.22},{"rng":"0 < TH < 20 dBZ","km":122.4,"val":0.17},{"rng":"0 < TH < 20 dBZ","km":123.8,"val":0.01},{"rng":"0 < TH < 20 dBZ","km":126.1,"val":-0.17},{"rng":"0 < TH < 20 dBZ","km":128.1,"val":-0.35},{"rng":"0 < TH < 20 dBZ","km":130.1,"val":-0.35},{"rng":"0 < TH < 20 dBZ","km":131.8,"val":-0.43},{"rng":"0 < TH < 20 dBZ","km":132.9,"val":-0.63},{"rng":"0 < TH < 20 dBZ","km":135.2,"val":-0.75},{"rng":"0 < TH < 20 dBZ","km":136.8,"val":-0.89},{"rng":"0 < TH < 20 dBZ","km":138.5,"val":-1.07},{"rng":"0 < TH < 20 dBZ","km":140.2,"val":-1.11},{"rng":"0 < TH < 20 dBZ","km":142.2,"val":-1.31},{"rng":"0 < TH < 20 dBZ","km":143.9,"val":-1.40},{"rng":"0 < TH < 20 dBZ","km":145.6,"val":-1.47},{"rng":"0 < TH < 20 dBZ","km":146.5,"val":-1.31},{"rng":"0 < TH < 20 dBZ","km":147.3,"val":-1.35},{"rng":"0 < TH < 20 dBZ","km":148.7,"val":-1.37},{"rng":"0 < TH < 20 dBZ","km":149.9,"val":-1.29},{"rng":"0 < TH < 20 dBZ","km":151.6,"val":-1.13},{"rng":"0 < TH < 20 dBZ","km":153.3,"val":-1.07},{"rng":"0 < TH < 20 dBZ","km":155.5,"val":-0.91},{"rng":"0 < TH < 20 dBZ","km":157.2,"val":-0.80},{"rng":"0 < TH < 20 dBZ","km":159.5,"val":-0.83},{"rng":"0 < TH < 20 dBZ","km":160.9,"val":-0.63},{"rng":"0 < TH < 20 dBZ","km":162.9,"val":-0.65},{"rng":"0 < TH < 20 dBZ","km":164.6,"val":-0.47},{"rng":"0 < TH < 20 dBZ","km":166.3,"val":-0.26},{"rng":"0 < TH < 20 dBZ","km":167.4,"val":-0.33},{"rng":"0 < TH < 20 dBZ","km":168.3,"val":-0.14},{"rng":"0 < TH < 20 dBZ","km":169.1,"val":-0.08},
      {"rng":"20 < TH < 40 dBZ","km":2.5,"val":-0.10},{"rng":"20 < TH < 40 dBZ","km":3.3,"val":0.35},{"rng":"20 < TH < 40 dBZ","km":4.4,"val":-0.17},{"rng":"20 < TH < 40 dBZ","km":6.1,"val":-0.05},{"rng":"20 < TH < 40 dBZ","km":7.2,"val":0.20},{"rng":"20 < TH < 40 dBZ","km":8.4,"val":0.55},{"rng":"20 < TH < 40 dBZ","km":10.1,"val":0.58},{"rng":"20 < TH < 40 dBZ","km":11.2,"val":0.35},{"rng":"20 < TH < 40 dBZ","km":12.3,"val":0.01},{"rng":"20 < TH < 40 dBZ","km":14.0,"val":0.01},{"rng":"20 < TH < 40 dBZ","km":15.5,"val":0.43},{"rng":"20 < TH < 40 dBZ","km":16.9,"val":0.31},{"rng":"20 < TH < 40 dBZ","km":18.3,"val":0.50},{"rng":"20 < TH < 40 dBZ","km":19.7,"val":0.68},{"rng":"20 < TH < 40 dBZ","km":21.4,"val":0.43},{"rng":"20 < TH < 40 dBZ","km":23.7,"val":0.49},{"rng":"20 < TH < 40 dBZ","km":26.5,"val":0.55},{"rng":"20 < TH < 40 dBZ","km":28.8,"val":0.55},{"rng":"20 < TH < 40 dBZ","km":31.0,"val":0.43},{"rng":"20 < TH < 40 dBZ","km":33.9,"val":0.31},{"rng":"20 < TH < 40 dBZ","km":36.7,"val":0.37},{"rng":"20 < TH < 40 dBZ","km":38.9,"val":0.43},{"rng":"20 < TH < 40 dBZ","km":42.3,"val":0.37},{"rng":"20 < TH < 40 dBZ","km":44.0,"val":0.55},{"rng":"20 < TH < 40 dBZ","km":45.7,"val":0.49},{"rng":"20 < TH < 40 dBZ","km":48.6,"val":0.25},{"rng":"20 < TH < 40 dBZ","km":51.4,"val":0.19},{"rng":"20 < TH < 40 dBZ","km":53.7,"val":0.31},{"rng":"20 < TH < 40 dBZ","km":55.9,"val":0.19},{"rng":"20 < TH < 40 dBZ","km":60.4,"val":0.25},{"rng":"20 < TH < 40 dBZ","km":65.0,"val":0.31},{"rng":"20 < TH < 40 dBZ","km":69.5,"val":0.37},{"rng":"20 < TH < 40 dBZ","km":71.8,"val":0.31},{"rng":"20 < TH < 40 dBZ","km":74.0,"val":0.13},{"rng":"20 < TH < 40 dBZ","km":76.3,"val":0.07},{"rng":"20 < TH < 40 dBZ","km":78.6,"val":0.19},{"rng":"20 < TH < 40 dBZ","km":79.7,"val":0.49},{"rng":"20 < TH < 40 dBZ","km":81.4,"val":0.19},{"rng":"20 < TH < 40 dBZ","km":83.1,"val":0.07},{"rng":"20 < TH < 40 dBZ","km":85.3,"val":0.13},{"rng":"20 < TH < 40 dBZ","km":88.2,"val":-0.05},{"rng":"20 < TH < 40 dBZ","km":89.9,"val":0.25},{"rng":"20 < TH < 40 dBZ","km":91.6,"val":0.43},{"rng":"20 < TH < 40 dBZ","km":93.3,"val":0.37},{"rng":"20 < TH < 40 dBZ","km":95.0,"val":0.55},{"rng":"20 < TH < 40 dBZ","km":96.7,"val":0.49},{"rng":"20 < TH < 40 dBZ","km":98.4,"val":0.29},
      {"rng":"40 < TH < 60 dBZ","km":2.2,"val":0.05},{"rng":"40 < TH < 60 dBZ","km":3.0,"val":-0.30},{"rng":"40 < TH < 60 dBZ","km":3.8,"val":0.15},{"rng":"40 < TH < 60 dBZ","km":5.0,"val":-0.20},{"rng":"40 < TH < 60 dBZ","km":6.5,"val":0.05},{"rng":"40 < TH < 60 dBZ","km":7.8,"val":0.35},{"rng":"40 < TH < 60 dBZ","km":8.9,"val":-0.65},{"rng":"40 < TH < 60 dBZ","km":10.1,"val":-0.30},{"rng":"40 < TH < 60 dBZ","km":11.5,"val":-0.10},{"rng":"40 < TH < 60 dBZ","km":12.9,"val":-0.77},{"rng":"40 < TH < 60 dBZ","km":14.0,"val":-0.53},{"rng":"40 < TH < 60 dBZ","km":15.2,"val":0.37},{"rng":"40 < TH < 60 dBZ","km":16.5,"val":0.20},{"rng":"40 < TH < 60 dBZ","km":17.3,"val":0.00},{"rng":"40 < TH < 60 dBZ","km":18.3,"val":0.07},{"rng":"40 < TH < 60 dBZ","km":19.7,"val":-2.46},{"rng":"40 < TH < 60 dBZ","km":20.8,"val":0.13},{"rng":"40 < TH < 60 dBZ","km":22.0,"val":-2.40},{"rng":"40 < TH < 60 dBZ","km":23.5,"val":-0.50},{"rng":"40 < TH < 60 dBZ","km":25.1,"val":-1.73},{"rng":"40 < TH < 60 dBZ","km":26.8,"val":-1.83},{"rng":"40 < TH < 60 dBZ","km":28.5,"val":0.30},{"rng":"40 < TH < 60 dBZ","km":29.9,"val":2.18},{"rng":"40 < TH < 60 dBZ","km":31.0,"val":-0.35},{"rng":"40 < TH < 60 dBZ","km":32.2,"val":0.86},{"rng":"40 < TH < 60 dBZ","km":33.3,"val":0.68},{"rng":"40 < TH < 60 dBZ","km":42.1,"val":6.22},{"rng":"40 < TH < 60 dBZ","km":43.8,"val":0.61},{"rng":"40 < TH < 60 dBZ","km":45.0,"val":0.55}
    ]
  },
  "bounds": "flush",
  "spacing": 201.6,
  "resolve": {
    "scale": {"color": "independent", "strokeDash": "independent", "x": "independent", "y": "independent"},
    "legend": {"color": "independent", "strokeDash": "independent"}
  },
  "vconcat": [
    {
      "title": {"text": "Median TH for dBZ-ranges", "fontSize": 20, "fontWeight": "bold", "anchor": "middle", "frame": "group", "baseline": "alphabetic", "offset": -29},
      "width": 1079,
      "height": 318.5,
      "resolve": {"axis": {"x": "independent"}},
      "layer": [
        {
          "data": {"values": [{"z": 0}]},
          "mark": {"type": "rule", "color": "#BEBEBE", "strokeWidth": 3, "strokeDash": [7, 4]},
          "encoding": {"y": {"field": "z", "type": "quantitative"}}
        },
        {
          "data": {"name": "top"},
          "mark": {"type": "line", "strokeWidth": 1.8},
          "encoding": {
            "x": {"field": "km", "type": "quantitative",
              "scale": {"domain": [-7.2, 187.2], "nice": false, "zero": false},
              "axis": {"values": [0, 50, 100, 150], "title": "range [km]"}},
            "y": {"field": "val", "type": "quantitative",
              "scale": {"domain": [-23.2, 63.2], "nice": false, "zero": false},
              "axis": {"values": [-20, 0, 20, 40, 60], "title": "Median of TH [dBZ]", "labelExpr": "'' + datum.value"}},
            "color": {"field": "src", "type": "nominal",
              "scale": {"domain": ["MAG", "SSPA"], "range": ["#0000FF", "#FF0000"]},
              "legend": {"orient": "none", "legendX": 982, "legendY": 362, "title": null, "symbolType": "M-4,0H4", "symbolSize": 76.6, "symbolStrokeWidth": 3, "labelOffset": 25, "rowPadding": 3.6}},
            "strokeDash": {"field": "rng", "type": "nominal",
              "scale": {"domain": ["-20 < TH < 0 dBZ", "0 < TH < 20 dBZ", "20 < TH < 40 dBZ", "40 < TH < 60 dBZ"], "range": [[1, 0], [8, 5], [2, 4], [8, 4, 2, 4]]},
              "legend": {"orient": "none", "legendX": 885.5, "legendY": 430, "title": null, "symbolType": "M-4,0H4", "symbolSize": 76.6, "symbolStrokeWidth": 1.5, "symbolStrokeColor": "black", "labelOffset": 24, "rowPadding": 3.5}},
            "detail": {"field": "seg", "type": "nominal"}
          }
        },
        {
          "data": {"values": [{"km": 0}]},
          "mark": {"type": "rule", "opacity": 0},
          "encoding": {
            "x": {"field": "km", "type": "quantitative",
              "scale": {"domain": [-7.2, 187.2], "nice": false, "zero": false},
              "axis": {"orient": "top", "title": "a)", "titleAnchor": "start", "titleBaseline": "alphabetic", "titlePadding": 25, "labels": false, "ticks": false, "grid": false, "domain": false}}
          }
        }
      ]
    },
    {
      "title": {"text": "Difference of Median", "fontSize": 20, "fontWeight": "bold", "anchor": "middle", "frame": "group", "baseline": "alphabetic", "offset": -17},
      "width": 1079,
      "height": 298.7,
      "resolve": {"axis": {"x": "independent"}},
      "layer": [
        {
          "data": {"values": [{"z": 0}]},
          "mark": {"type": "rule", "color": "#BEBEBE", "strokeWidth": 3, "strokeDash": [7, 4]},
          "encoding": {"y": {"field": "z", "type": "quantitative"}}
        },
        {
          "data": {"name": "diff"},
          "mark": {"type": "line", "strokeWidth": 1.5, "color": "black"},
          "encoding": {
            "x": {"field": "km", "type": "quantitative",
              "scale": {"domain": [-6.8, 176.8], "nice": false, "zero": false},
              "axis": {"values": [0, 50, 100, 150], "title": "range [km]"}},
            "y": {"field": "val", "type": "quantitative",
              "scale": {"domain": [-3.4, 7.4], "nice": false, "zero": false},
              "axis": {"values": [-2, 0, 2, 4, 6], "title": "MAG - SSPA", "labelExpr": "'' + datum.value"}},
            "strokeDash": {"field": "rng", "type": "nominal",
              "scale": {"domain": ["-20 < TH < 0 dBZ", "0 < TH < 20 dBZ", "20 < TH < 40 dBZ", "40 < TH < 60 dBZ"], "range": [[1, 0], [8, 5], [2, 4], [8, 4, 2, 4]]},
              "legend": null}
          }
        },
        {
          "data": {"values": [{"km": 0}]},
          "mark": {"type": "rule", "opacity": 0},
          "encoding": {
            "x": {"field": "km", "type": "quantitative",
              "scale": {"domain": [-6.8, 176.8], "nice": false, "zero": false},
              "axis": {"orient": "top", "title": "b)", "titleAnchor": "start", "titleBaseline": "alphabetic", "titlePadding": 25.8, "labels": false, "ticks": false, "grid": false, "domain": false}}
          }
        }
      ]
    }
  ]
}
